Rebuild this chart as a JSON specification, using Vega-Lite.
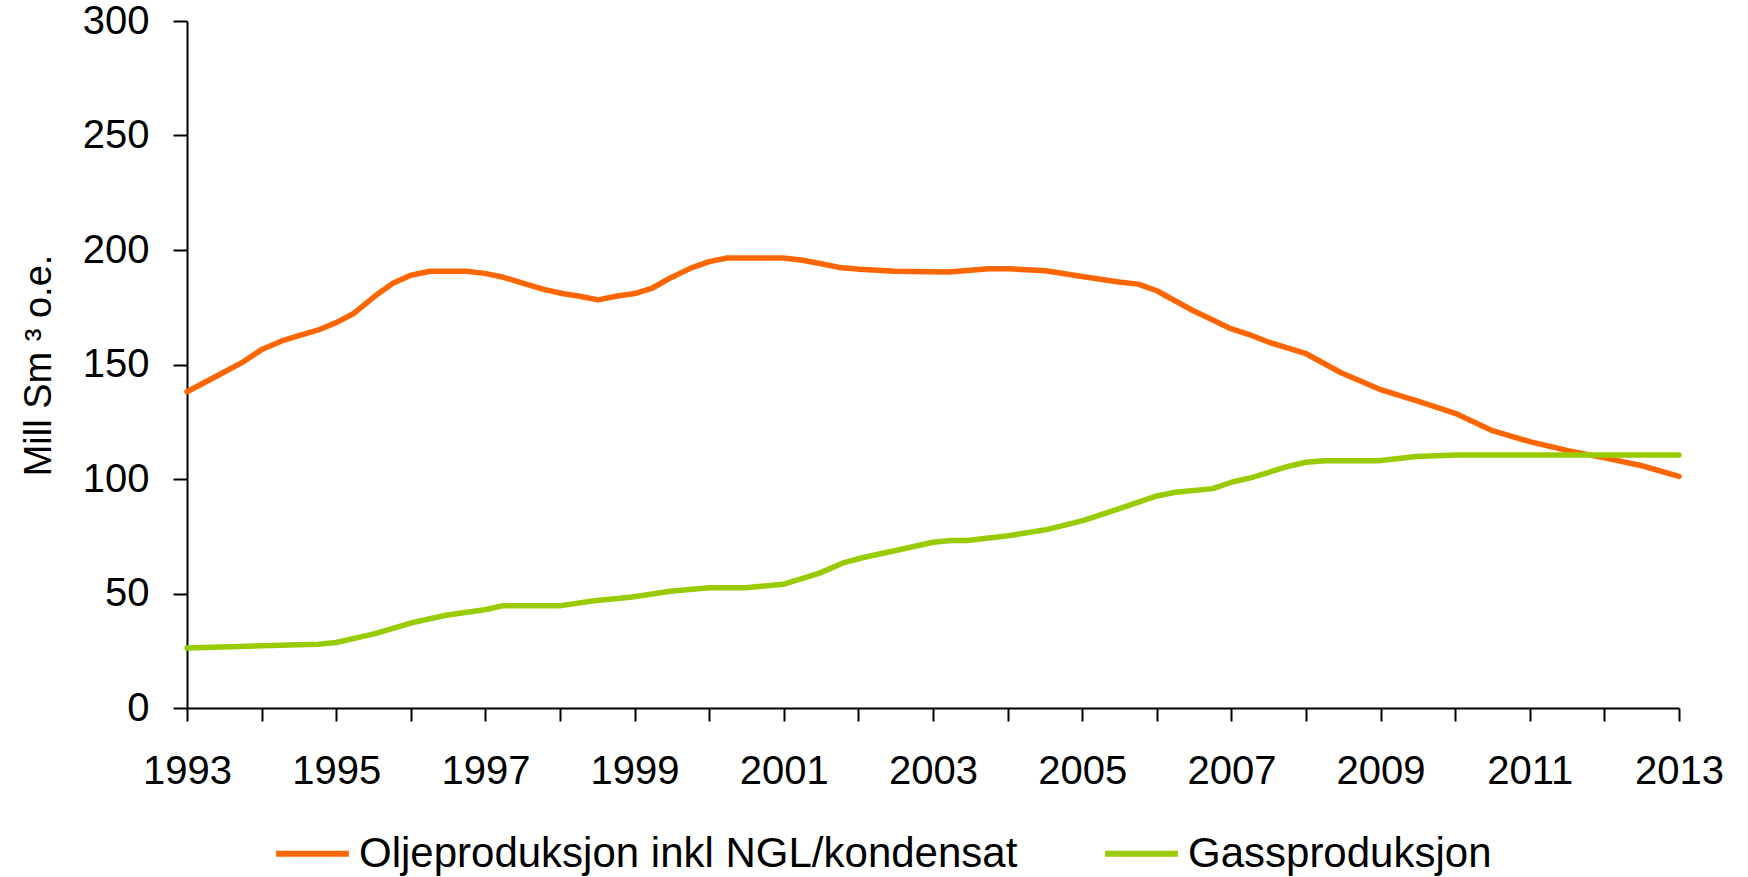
{
  "$schema": "https://vega.github.io/schema/vega-lite/v6.json",
  "autosize": {"type": "none"},
  "width": 1492,
  "height": 687,
  "padding": {"left": 187, "top": 21, "right": 69, "bottom": 169},
  "background": "white",
  "config": {
    "view": {"stroke": null},
    "font": "Liberation Sans"
  },
  "datasets": {
    "oil": [
      {"year": 1993, "value": 138.1}, {"year": 1993.47, "value": 146.2}, {"year": 1993.74, "value": 150.9},
      {"year": 1994.01, "value": 156.7}, {"year": 1994.27, "value": 160.3}, {"year": 1994.49, "value": 162.5},
      {"year": 1994.76, "value": 165.1}, {"year": 1995.0, "value": 168.3}, {"year": 1995.24, "value": 172.4},
      {"year": 1995.52, "value": 179.9}, {"year": 1995.76, "value": 185.5}, {"year": 1996.0, "value": 189.0},
      {"year": 1996.26, "value": 190.7}, {"year": 1996.75, "value": 190.7}, {"year": 1996.99, "value": 189.8},
      {"year": 1997.23, "value": 188.2}, {"year": 1997.5, "value": 185.5}, {"year": 1997.78, "value": 182.8},
      {"year": 1998.03, "value": 181.0}, {"year": 1998.25, "value": 179.9}, {"year": 1998.51, "value": 178.2},
      {"year": 1998.77, "value": 179.9}, {"year": 1999.0, "value": 181.0}, {"year": 1999.24, "value": 183.4},
      {"year": 1999.48, "value": 187.8}, {"year": 1999.76, "value": 192.2}, {"year": 2000.0, "value": 194.9},
      {"year": 2000.24, "value": 196.5}, {"year": 2000.99, "value": 196.5}, {"year": 2001.23, "value": 195.6},
      {"year": 2001.47, "value": 194.2}, {"year": 2001.74, "value": 192.4}, {"year": 2002.02, "value": 191.6},
      {"year": 2002.49, "value": 190.7}, {"year": 2003.21, "value": 190.4}, {"year": 2003.75, "value": 191.8},
      {"year": 2004.01, "value": 191.8}, {"year": 2004.51, "value": 190.9}, {"year": 2005.02, "value": 188.3},
      {"year": 2005.49, "value": 186.0}, {"year": 2005.75, "value": 185.1}, {"year": 2006.0, "value": 182.2},
      {"year": 2006.47, "value": 173.8}, {"year": 2006.98, "value": 165.8}, {"year": 2007.23, "value": 163.2},
      {"year": 2007.52, "value": 159.5}, {"year": 2007.99, "value": 154.9}, {"year": 2008.47, "value": 146.4},
      {"year": 2009.01, "value": 138.9}, {"year": 2009.52, "value": 133.8}, {"year": 2010.0, "value": 128.7},
      {"year": 2010.5, "value": 121.1}, {"year": 2011.0, "value": 116.3}, {"year": 2011.51, "value": 112.4},
      {"year": 2012.02, "value": 109.1}, {"year": 2012.49, "value": 105.9}, {"year": 2013, "value": 101.1}
    ],
    "gas": [
      {"year": 1993, "value": 26.2}, {"year": 1994.01, "value": 27.2}, {"year": 1994.49, "value": 27.6},
      {"year": 1994.76, "value": 27.8}, {"year": 1995.0, "value": 28.6}, {"year": 1995.52, "value": 32.5},
      {"year": 1996.0, "value": 37.1}, {"year": 1996.47, "value": 40.5}, {"year": 1996.99, "value": 42.9},
      {"year": 1997.24, "value": 44.7}, {"year": 1998.01, "value": 44.7}, {"year": 1998.46, "value": 46.8},
      {"year": 1998.97, "value": 48.5}, {"year": 1999.48, "value": 51.0}, {"year": 2000.0, "value": 52.5},
      {"year": 2000.48, "value": 52.5}, {"year": 2000.99, "value": 54.0}, {"year": 2001.47, "value": 58.8},
      {"year": 2001.81, "value": 63.5}, {"year": 2002.05, "value": 65.6}, {"year": 2002.53, "value": 69.0},
      {"year": 2003.0, "value": 72.4}, {"year": 2003.25, "value": 73.1}, {"year": 2003.46, "value": 73.1},
      {"year": 2004.01, "value": 75.2}, {"year": 2004.51, "value": 77.8}, {"year": 2005.02, "value": 81.9},
      {"year": 2005.52, "value": 87.3}, {"year": 2006.0, "value": 92.6}, {"year": 2006.25, "value": 94.2},
      {"year": 2006.75, "value": 95.8}, {"year": 2007.01, "value": 98.7}, {"year": 2007.27, "value": 100.6},
      {"year": 2007.78, "value": 105.7}, {"year": 2008.0, "value": 107.3}, {"year": 2008.25, "value": 108.0},
      {"year": 2008.97, "value": 108.0}, {"year": 2009.48, "value": 109.8}, {"year": 2010.02, "value": 110.5},
      {"year": 2013, "value": 110.5}
    ]
  },
  "layer": [
    {
      "data": {"name": "oil"},
      "transform": [{"calculate": "'Oljeproduksjon inkl NGL/kondensat'", "as": "serie"}],
      "mark": {"type": "line", "strokeWidth": 5.5, "strokeCap": "round", "strokeJoin": "round"},
      "encoding": {
        "x": {"field": "year", "type": "quantitative"},
        "y": {"field": "value", "type": "quantitative"},
        "color": {"field": "serie", "type": "nominal"}
      }
    },
    {
      "data": {"name": "gas"},
      "transform": [{"calculate": "'Gassproduksjon'", "as": "serie"}],
      "mark": {"type": "line", "strokeWidth": 5.5, "strokeCap": "round", "strokeJoin": "round"},
      "encoding": {
        "x": {"field": "year", "type": "quantitative"},
        "y": {"field": "value", "type": "quantitative"},
        "color": {"field": "serie", "type": "nominal"}
      }
    }
  ],
  "encoding": {
    "x": {
      "field": "year", "type": "quantitative",
      "scale": {"domain": [1993, 2013], "nice": false, "zero": false},
      "axis": {
        "title": null,
        "values": [1993,1994,1995,1996,1997,1998,1999,2000,2001,2002,2003,2004,2005,2006,2007,2008,2009,2010,2011,2012,2013],
        "format": "d",
        "labelExpr": "datum.value % 2 == 1 ? datum.label : ''",
        "grid": false,
        "domainColor": "black", "domainWidth": 2,
        "tickColor": "black", "tickWidth": 2, "tickSize": 13,
        "labelColor": "black", "labelFontSize": 40, "labelPadding": 30,
        "labelFont": "Liberation Sans", "labelOverlap": false, "labelFlush": false
      }
    },
    "y": {
      "field": "value", "type": "quantitative",
      "scale": {"domain": [0, 300], "nice": false},
      "axis": {
        "title": "Mill Sm ³ o.e.",
        "values": [0, 50, 100, 150, 200, 250, 300],
        "grid": false,
        "domainColor": "black", "domainWidth": 2,
        "tickColor": "black", "tickWidth": 2, "tickSize": 14,
        "labelColor": "black", "labelFontSize": 40, "labelPadding": 24,
        "labelFont": "Liberation Sans",
        "titleFont": "Liberation Sans", "titleFontSize": 38, "titleFontWeight": "normal",
        "titleColor": "black", "titleAngle": -90, "titleAlign": "center",
        "titleBaseline": "alphabetic", "titleX": -137, "titleY": 344
      }
    },
    "color": {
      "field": "serie", "type": "nominal",
      "scale": {
        "domain": ["Oljeproduksjon inkl NGL/kondensat", "Gassproduksjon"],
        "range": ["#FF6600", "#99CC00"]
      },
      "legend": {
        "title": null,
        "orient": "none",
        "direction": "horizontal",
        "legendX": 86,
        "legendY": 793,
        "symbolType": "stroke",
        "symbolSize": 5300,
        "symbolStrokeWidth": 6,
        "labelFontSize": 42,
        "labelFont": "Liberation Sans",
        "labelColor": "black",
        "labelOffset": 7,
        "labelLimit": 1000,
        "columnPadding": 75,
        "padding": 0
      }
    }
  }
}
